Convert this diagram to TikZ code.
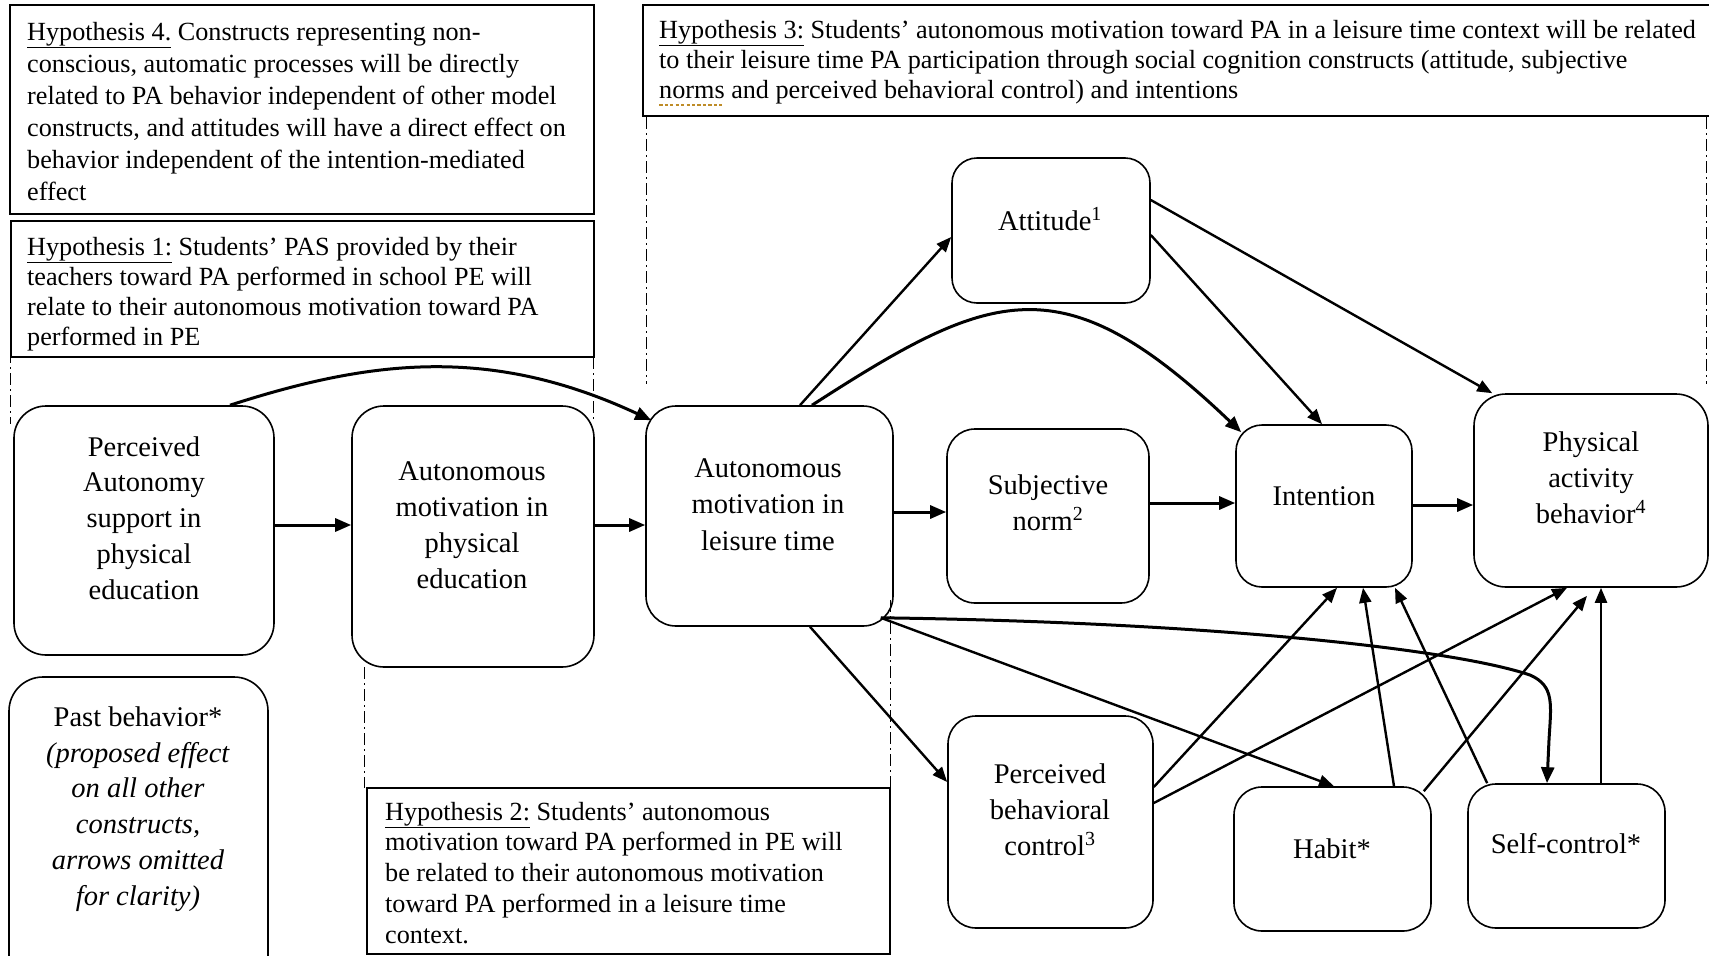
\documentclass[tikz,border=0pt]{standalone}
\usepackage{fontspec}
\setmainfont{Liberation Serif}
\usetikzlibrary{arrows.meta,calc}
\definecolor{gramc}{RGB}{190,140,40}
% dotted proofing mark under a word
\newsavebox\pmbox
\newcommand{\proofmark}[1]{\leavevmode\sbox\pmbox{#1}%
  \rlap{\raisebox{-0.30em}{\color{gramc}\hbox to \wd\pmbox{\xleaders\hbox to 0.2em{\rule{0.12em}{0.09em}\hfil}\hfil}}}\usebox\pmbox}
\begin{document}
\begin{tikzpicture}[x=1pt,y=-1pt,
  box/.style={draw=black, line width=1.6pt, rounded corners=28pt, inner sep=0pt},
  hbox/.style={draw=black, line width=1.6pt, inner sep=0pt},
  ntext/.style={font=\fontsize{28.5}{35.7}\selectfont, align=center, inner sep=0pt, anchor=base},
  htext/.style={font=\fontsize{26.2}{30}\selectfont, align=left, inner sep=0pt, anchor=base west},
  conn/.style={line width=2.4pt, -{Triangle[length=15pt,width=12pt]}},
  thickconn/.style={line width=3pt, -{Triangle[length=16pt,width=13pt]}},
  region/.style={line width=1pt, dash pattern=on 12pt off 4pt on 2pt off 4pt}]
\useasboundingbox (0,0) rectangle (1709,956);
\clip (0,0) rectangle (1709,956);

% hypothesis boxes (text nodes are placed by the baseline of their last line)
\node[hbox, minimum width=584pt, minimum height=209pt] (h4) at (302,109.5) {};
\node[htext] (h4t) at (27,200) [font=\fontsize{26.2}{32}\selectfont]
  {\underline{Hypothesis 4.} Constructs representing non-\\conscious, automatic processes will be directly\\related to PA behavior independent of other model\\constructs, and attitudes will have a direct effect on\\behavior independent of the intention-mediated\\effect};

\node[hbox, minimum width=583pt, minimum height=136pt] (h1) at (302.5,289) {};
\begin{scope}
  \clip (11,221) rectangle (594,356);
  \node[htext] (h1t) at (27,345)
    {\underline{Hypothesis 1:} Students’ PAS provided by their\\teachers toward PA performed in school PE will\\relate to their autonomous motivation toward PA\\performed in PE};
\end{scope}

\node[hbox, minimum width=1080pt, minimum height=111pt] (h3) at (1183,60.5) {};
\node[htext] (h3t) at (659,98)
  {\underline{Hypothesis 3:} Students’ autonomous motivation toward PA in a leisure time context will be related\\to their leisure time PA participation through social cognition constructs (attitude, subjective\\\proofmark{norms} and perceived behavioral control) and intentions};

\node[hbox, minimum width=523pt, minimum height=166pt] (h2) at (628.5,871) {};
\node[htext] (h2t) at (385,943) [font=\fontsize{26.2}{30.7}\selectfont]
  {\underline{Hypothesis 2:} Students’ autonomous\\motivation toward PA performed in PE will\\be related to their autonomous motivation\\toward PA performed in a leisure time\\context.};

% dash-dot region markers
\draw[region] (10,351) -- (10,424);
\draw[region] (593,357) -- (593,420);
\draw[region] (646,117) -- (646,384);
\draw[region] (1706,117) -- (1706,384);
\draw[region] (364,667) -- (364,788);
\draw[region] (890,600) -- (890,788);

% construct boxes
\node[box, rounded corners=32pt, minimum width=260pt, minimum height=249pt] (pas) at (144,530.5) {};
\node[box, rounded corners=32pt, minimum width=242pt, minimum height=261pt] (ampe) at (473,536.5) {};
\node[box, rounded corners=30pt, minimum width=247pt, minimum height=220pt] (amlt) at (769.5,516) {};
\node[box, rounded corners=25pt, minimum width=198pt, minimum height=145pt] (att) at (1051,230.5) {};
\node[box, minimum width=202pt, minimum height=174pt] (sn) at (1048,516) {};
\node[box, rounded corners=26pt, minimum width=176pt, minimum height=162pt] (int) at (1324,506) {};
\node[box, rounded corners=32pt, minimum width=234pt, minimum height=193pt] (pab) at (1591,490.5) {};
\node[box, minimum width=205pt, minimum height=212pt] (pbc) at (1050.5,822) {};
\node[box, minimum width=197pt, minimum height=144pt] (hab) at (1332.5,859) {};
\node[box, minimum width=197pt, minimum height=144pt] (sc) at (1566.5,856) {};
\node[box, rounded corners=34pt, minimum width=259pt, minimum height=330pt] (past) at (138.5,842) {};

% construct labels (placed by the baseline of their last line)
\node[ntext] (pas-t) at (144,599) {Perceived\\Autonomy\\support in\\physical\\education};
\node[ntext] (ampe-t) at (472,588) {Autonomous\\motivation in\\physical\\education};
\node[ntext, font=\fontsize{28.5}{36.5}\selectfont] (amlt-t) at (768,550) {Autonomous\\motivation in\\leisure time};
\node[ntext] (att-t) at (1050,230) {Attitude\textsuperscript{1}};
\node[ntext] (sn-t) at (1048,530) {Subjective\\norm\textsuperscript{2}};
\node[ntext] (int-t) at (1324,505) {Intention};
\node[ntext] (pab-t) at (1591,523) {Physical\\activity\\behavior\textsuperscript{4}};
\node[ntext] (pbc-t) at (1050,855) {Perceived\\behavioral\\control\textsuperscript{3}};
\node[ntext] (hab-t) at (1332,858) {Habit*};
\node[ntext] (sc-t) at (1566,853) {Self-control*};
\node[ntext] (past-t) at (138,905) {Past behavior*\\\textit{(proposed effect}\\\textit{on all other}\\\textit{constructs,}\\\textit{arrows omitted}\\\textit{for clarity)}};

% main chain
\draw[thickconn] (pas.east |- 0,525) -- (ampe.west |- 0,525);
\draw[thickconn] (ampe.east |- 0,525) -- (amlt.west |- 0,525);
\draw[thickconn] ([xshift=86pt]pas.north) .. controls (370,360) and (490,345) .. ([xshift=6pt,yshift=-15pt]amlt.north west);

% leisure-time motivation to social cognition constructs
\draw[conn] ([xshift=30.5pt]amlt.north) -- ([yshift=-6.5pt]att.west);
\draw[thickconn] ([xshift=42.5pt]amlt.north) .. controls (992,289) and (1062,261) .. ([xshift=6pt,yshift=-8pt]int.north west);
\draw[thickconn] (amlt.east |- 0,512) -- (sn.west |- 0,512);
\draw[conn] ([xshift=40.5pt]amlt.south) -- ([yshift=40pt]pbc.west);
\draw[conn] ([xshift=-13pt,yshift=9pt]amlt.south east) -- ([xshift=1.5pt]hab.north);
\draw[thickconn] ([xshift=-13pt,yshift=9pt]amlt.south east) .. controls (1200,622) and (1450,648) .. (1530,675)
  .. controls (1555,686) and (1551,705) .. (1549,740) -- ([xshift=-19.5pt]sc.north);

% towards intention and behavior
\draw[thickconn] (sn.east |- 0,503) -- (int.west |- 0,503);
\draw[thickconn] (int.east |- 0,505) -- (pab.west |- 0,505);
\draw[conn] ([yshift=-4.5pt]att.east) -- ([xshift=-2pt]int.north);
\draw[conn] ([yshift=30.5pt]att.east) -- ([xshift=19pt]pab.north west);
\draw[conn] ([yshift=35pt]pbc.east) -- ([xshift=13pt]int.south);
\draw[conn] ([yshift=19pt]pbc.east) -- ([xshift=-24pt]pab.south);
\draw[conn] ([xshift=61.5pt]hab.north) -- ([xshift=39pt]int.south);
\draw[conn] ([xshift=-8pt,yshift=-5pt]hab.north east) -- ([xshift=-4pt,yshift=-8pt]pab.south);
\draw[conn] ([xshift=20pt]sc.north west) -- ([xshift=71pt]int.south);
\draw[conn] ([xshift=34.5pt]sc.north) -- ([xshift=10pt]pab.south);
\end{tikzpicture}
\end{document}
